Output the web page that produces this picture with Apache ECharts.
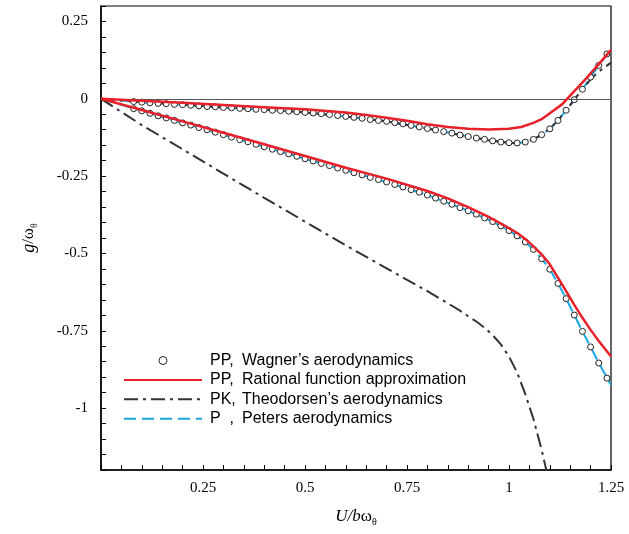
<!DOCTYPE html>
<html>
<head>
<meta charset="utf-8">
<script src="https://cdn.jsdelivr.net/npm/echarts@6/dist/echarts.min.js"></script>
<style>
html,body{margin:0;padding:0;background:#fff;}
#chart{width:629px;height:534px;}
</style>
</head>
<body>
<div id="chart"></div>
<script>
// ---- Data ----
const xTicks = [0.25, 0.5, 0.75, 1, 1.25];
const yTicks = [0.25, 0, -0.25, -0.5, -0.75, -1];

// PP, Wagner's aerodynamics (circles), two branches
const wagnerX = [0.08,0.10,0.12,0.14,0.16,0.18,0.20,0.22,0.24,0.26,
                 0.28,0.30,0.32,0.34,0.36,0.38,0.40,0.42,0.44,0.46,
                 0.48,0.50,0.52,0.54,0.56,0.58,0.60,0.62,0.64,0.66,
                 0.68,0.70,0.72,0.74,0.76,0.78,0.80,0.82,0.84,0.86,
                 0.88,0.90,0.92,0.94,0.96,0.98,1.00,1.02,1.04,1.06,
                 1.08,1.10,1.12,1.14,1.16,1.18,1.20,1.22,1.24];
const wagnerUpper = [-0.009,-0.011,-0.013,-0.015,-0.016,-0.018,-0.019,-0.021,-0.023,-0.025,
                     -0.026,-0.028,-0.029,-0.031,-0.032,-0.034,-0.035,-0.037,-0.038,-0.040,
                     -0.042,-0.044,-0.046,-0.048,-0.051,-0.054,-0.057,-0.060,-0.063,-0.067,
                     -0.070,-0.073,-0.077,-0.081,-0.086,-0.091,-0.096,-0.101,-0.106,-0.111,
                     -0.117,-0.122,-0.127,-0.131,-0.136,-0.140,-0.142,-0.143,-0.140,-0.131,
                     -0.116,-0.097,-0.070,-0.037,-0.003,0.031,0.070,0.108,0.145];
const wagnerLower = [-0.032,-0.039,-0.047,-0.055,-0.062,-0.070,-0.078,-0.085,-0.093,-0.100,
                     -0.108,-0.116,-0.124,-0.132,-0.139,-0.147,-0.155,-0.163,-0.171,-0.178,
                     -0.186,-0.194,-0.201,-0.209,-0.216,-0.224,-0.231,-0.239,-0.246,-0.254,
                     -0.261,-0.269,-0.277,-0.285,-0.294,-0.302,-0.311,-0.321,-0.331,-0.341,
                     -0.352,-0.362,-0.373,-0.385,-0.397,-0.411,-0.426,-0.443,-0.463,-0.487,
                     -0.517,-0.551,-0.597,-0.646,-0.699,-0.752,-0.802,-0.854,-0.903];

// PP, Rational function approximation (red solid)
const rfaUpperX = [0,0.1,0.2,0.3,0.4,0.5,0.6,0.65,0.7,0.75,0.8,0.85,0.9,0.95,1.0,1.03,1.06,1.08,1.1,1.13,1.16,1.19,1.22,1.25];
const rfaUpperY = [0,-0.006,-0.013,-0.020,-0.027,-0.034,-0.044,-0.052,-0.061,-0.071,-0.082,-0.091,-0.097,-0.099,-0.097,-0.091,-0.078,-0.066,-0.047,-0.018,0.025,0.067,0.112,0.158];
const rfaLowerX = [0,0.1,0.2,0.3,0.4,0.5,0.6,0.7,0.8,0.85,0.9,0.95,1.0,1.02,1.04,1.06,1.08,1.10,1.12,1.14,1.16,1.18,1.20,1.22,1.25];
const rfaLowerY = [0,-0.036,-0.073,-0.110,-0.147,-0.185,-0.223,-0.258,-0.298,-0.322,-0.350,-0.382,-0.418,-0.434,-0.453,-0.477,-0.503,-0.535,-0.578,-0.622,-0.666,-0.708,-0.747,-0.783,-0.833];

// PK, Theodorsen's aerodynamics (dash-dot)
const theoUpperX = [0,0.1,0.2,0.3,0.4,0.5,0.6,0.7,0.8,0.9,0.95,1.0,1.02,1.04,1.06,1.08,1.10,1.12,1.14,1.16,1.18,1.2,1.22,1.25];
const theoUpperY = [0,-0.011,-0.019,-0.028,-0.035,-0.044,-0.057,-0.073,-0.096,-0.122,-0.134,-0.142,-0.143,-0.140,-0.131,-0.116,-0.097,-0.070,-0.037,-0.003,0.031,0.063,0.088,0.117];
const theoLowerX = [0,0.1,0.2,0.3,0.4,0.5,0.6,0.7,0.8,0.85,0.88,0.9,0.92,0.94,0.96,0.98,1.0,1.02,1.04,1.06,1.08,1.095];
const theoLowerY = [0,-0.085,-0.163,-0.242,-0.320,-0.397,-0.474,-0.548,-0.622,-0.661,-0.685,-0.703,-0.720,-0.740,-0.764,-0.794,-0.833,-0.885,-0.955,-1.035,-1.135,-1.220];

// P, Peters aerodynamics (blue dashed)
const petersX = [0,0.1,0.2,0.3,0.4,0.5,0.6,0.7,0.8,0.9,0.95,1.0,1.02,1.04,1.06,1.08,1.10,1.12,1.14,1.16,1.18,1.2,1.22,1.25];
const petersUpperY = [0,-0.011,-0.019,-0.028,-0.035,-0.044,-0.057,-0.073,-0.096,-0.122,-0.134,-0.142,-0.143,-0.140,-0.131,-0.116,-0.097,-0.070,-0.037,-0.003,0.031,0.070,0.108,0.160];
const petersLowerY = [0,-0.039,-0.078,-0.116,-0.155,-0.194,-0.231,-0.269,-0.311,-0.362,-0.391,-0.426,-0.443,-0.463,-0.487,-0.517,-0.551,-0.597,-0.646,-0.699,-0.752,-0.802,-0.854,-0.925];

const names = {
  wagner: 'PP,  Wagner\u2019s aerodynamics',
  rfa: 'PP,  Rational function approximation',
  theo: 'PK, Theodorsen\u2019s aerodynamics',
  peters: 'P  ,  Peters aerodynamics'
};

// ---- Build chart ----
const zip = (xs, ys) => xs.map((x, i) => [x, ys[i]]);
const RED = '#E8202A', BLUE = '#1BA8E0', DARK = '#333333';
const serif = '"Liberation Serif","Times New Roman",serif';
const sans = '"Liberation Sans",Arial,sans-serif';

function isTick(v, list) { return list.some(t => Math.abs(t - v) < 1e-6); }
function fmt(v) { return String(+v.toFixed(2)); }

const chart = echarts.init(document.getElementById('chart'), null, {renderer: 'canvas'});

const lineBase = {type: 'line', showSymbol: false, symbol: 'none', smooth: false, animation: false};

chart.setOption({
  animation: false,
  backgroundColor: '#fff',
  grid: {left: 101, right: 18, top: 6, bottom: 64, show: true, borderColor: '#000', borderWidth: 1.2, backgroundColor: 'transparent'},
  xAxis: {
    type: 'value', min: 0, max: 1.25, interval: 0.05,
    axisLine: {onZero: false, lineStyle: {color: '#000', width: 1.5}},
    axisTick: {inside: true, length: 5, lineStyle: {color: '#000', width: 1}},
    splitLine: {show: false},
    axisLabel: {margin: 11, color: '#000', fontFamily: serif, fontSize: 15,
      formatter: v => isTick(v, xTicks) ? fmt(v) : ''},
    name: '{i|U/b}{n|ω}{s|θ}',
    nameLocation: 'middle', nameGap: 37,
    nameTextStyle: {
      rich: {
        i: {fontFamily: serif, fontStyle: 'italic', fontSize: 17, color: '#000', lineHeight: 20},
        n: {fontFamily: serif, fontSize: 17, color: '#000', lineHeight: 20},
        s: {fontFamily: serif, fontSize: 10, color: '#000', lineHeight: 20, verticalAlign: 'bottom'}
      }
    }
  },
  yAxis: {
    type: 'value', min: -1.2, max: 0.3, interval: 0.05,
    axisLine: {onZero: false, lineStyle: {color: '#000', width: 1.5}},
    axisTick: {inside: true, length: 5, lineStyle: {color: '#000', width: 1}},
    splitLine: {show: false},
    axisLabel: {margin: 13, color: '#000', fontFamily: serif, fontSize: 15,
      formatter: v => isTick(v, yTicks) ? fmt(v) : ''},
    name: '{i|g}{n|/ω}{s|θ}',
    nameLocation: 'middle', nameGap: 62,
    nameTextStyle: {
      rich: {
        i: {fontFamily: serif, fontStyle: 'italic', fontSize: 18, color: '#000', lineHeight: 20},
        n: {fontFamily: serif, fontSize: 17, color: '#000', lineHeight: 20},
        s: {fontFamily: serif, fontSize: 10, color: '#000', lineHeight: 20, verticalAlign: 'bottom'}
      }
    }
  },
  legend: {
    left: 118, top: 346, orient: 'vertical',
    itemWidth: 78, itemHeight: 8, itemGap: 0.4,
    data: [
      {name: names.wagner, itemStyle: {borderWidth: 1}},
      {name: names.rfa, itemStyle: {opacity: 0}},
      {name: names.theo, itemStyle: {opacity: 0}},
      {name: names.peters, itemStyle: {opacity: 0}}
    ],
    formatter: function (name) {
      const k = name.indexOf(',');
      return '{a|' + name.slice(0, k + 1) + '}{b|' + name.slice(k + 1).trim() + '}';
    },
    textStyle: {
      fontFamily: sans, fontSize: 16, color: '#000', lineHeight: 19, padding: [0, 0, 0, 3],
      rich: {
        a: {fontFamily: sans, fontSize: 16, color: '#000', width: 32, lineHeight: 19},
        b: {fontFamily: sans, fontSize: 16, color: '#000', lineHeight: 19}
      }
    }
  },
  series: [
    Object.assign({}, lineBase, {
      name: names.peters, z: 2, data: zip(petersX, petersUpperY),
      lineStyle: {color: BLUE, width: 2, type: [12, 6]}, itemStyle: {color: BLUE},
      markLine: {silent: true, symbol: 'none', label: {show: false},
        lineStyle: {color: '#555', width: 1, type: 'solid'}, data: [{yAxis: 0}]}
    }),
    Object.assign({}, lineBase, {
      name: names.peters, z: 2, data: zip(petersX, petersLowerY),
      lineStyle: {color: BLUE, width: 2, type: [12, 6]}, itemStyle: {color: BLUE}
    }),
    Object.assign({}, lineBase, {
      name: names.theo, z: 3, data: zip(theoUpperX, theoUpperY),
      lineStyle: {color: DARK, width: 2, type: [14, 5, 3, 5]}, itemStyle: {color: DARK}
    }),
    Object.assign({}, lineBase, {
      name: names.theo, z: 3, data: zip(theoLowerX, theoLowerY),
      lineStyle: {color: DARK, width: 2, type: [14, 5, 3, 5]}, itemStyle: {color: DARK}
    }),
    {
      type: 'scatter', name: names.wagner, z: 4, animation: false,
      symbol: 'circle', symbolSize: 6,
      itemStyle: {color: '#fff', borderColor: '#222', borderWidth: 1, opacity: 1},
      data: zip(wagnerX, wagnerUpper)
    },
    {
      type: 'scatter', name: names.wagner, z: 4, animation: false,
      symbol: 'circle', symbolSize: 6,
      itemStyle: {color: '#fff', borderColor: '#222', borderWidth: 1, opacity: 1},
      data: zip(wagnerX, wagnerLower)
    },
    Object.assign({}, lineBase, {
      name: names.rfa, z: 5, data: zip(rfaUpperX, rfaUpperY),
      lineStyle: {color: RED, width: 2.5, type: 'solid'}, itemStyle: {color: RED}
    }),
    Object.assign({}, lineBase, {
      name: names.rfa, z: 5, data: zip(rfaLowerX, rfaLowerY),
      lineStyle: {color: RED, width: 2.5, type: 'solid'}, itemStyle: {color: RED}
    })
  ]
});
</script>
</body>
</html>
